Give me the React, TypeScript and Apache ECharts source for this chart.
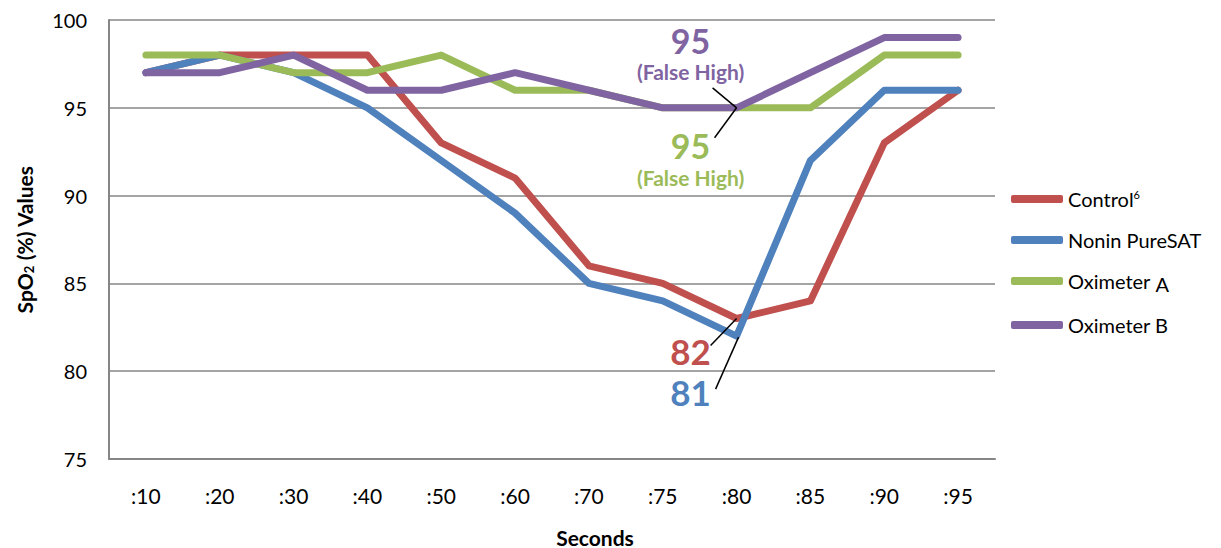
import React, { useEffect, useRef } from "react";
import * as echarts from "echarts";

const categories = [":10", ":20", ":30", ":40", ":50", ":60", ":70", ":75", ":80", ":85", ":90", ":95"];
const controlValues = [97, 98, 98, 98, 93, 91, 86, 85, 83, 84, 93, 96];
const noninValues = [97, 98, 97, 95, 92, 89, 85, 84, 82, 92, 96, 96];
const oximeterAValues = [98, 98, 97, 97, 98, 96, 96, 95, 95, 95, 98, 98];
const oximeterBValues = [97, 97, 98, 96, 96, 97, 96, 95, 95, 97, 99, 99];
const seriesNames = ["Control", "Nonin PureSAT", "Oximeter A", "Oximeter B"];
const colors = ["#C0504D", "#4F81BD", "#9BBB59", "#8064A2"];

const FONT = "Lato, 'Noto Sans', sans-serif";

export default function App() {
  const ref = useRef<HTMLDivElement>(null);
  useEffect(() => {
    if (!ref.current) return;
    document.body.style.margin = "0";
    const chart = echarts.init(ref.current, null, { renderer: "svg" });
    const mk = (i: number, data: number[]) => ({
      name: seriesNames[i],
      type: "line",
      data,
      symbol: "none",
      lineStyle: { width: 7, color: colors[i], cap: "round", join: "round" },
      itemStyle: { color: colors[i] },
    });
    chart.setOption({
      animation: false,
      textStyle: { fontFamily: FONT },
      grid: { left: 109, right: 226, top: 20, bottom: 89 },
      legend: {
        orient: "vertical",
        left: 1006,
        top: 184,
        itemGap: 21,
        itemWidth: 52,
        itemHeight: 8,
        icon: "roundRect",
        data: seriesNames,
        textStyle: {
          fontSize: 20,
          color: "#000",
          fontFamily: FONT,
          rich: {
            sup: { fontSize: 11, verticalAlign: "top", padding: [0, 0, 9, 0], color: "#000", fontFamily: FONT },
            low: { fontSize: 20, padding: [6, 0, 0, 0], color: "#000", fontFamily: FONT },
          },
        },
        formatter: (name: string) => {
          if (name === "Control") return "Control{sup|6}";
          if (name === "Oximeter A") return "Oximeter {low|A}";
          return name;
        },
      },
      xAxis: {
        type: "category",
        data: categories,
        boundaryGap: true,
        axisLine: { lineStyle: { color: "#868686", width: 2 } },
        axisTick: { show: false },
        axisLabel: { color: "#000", fontSize: 21, margin: 26, fontFamily: FONT },
      },
      yAxis: {
        type: "value",
        min: 75,
        max: 100,
        interval: 5,
        axisLine: { show: true, lineStyle: { color: "#868686", width: 2 } },
        axisTick: { show: false },
        splitLine: { lineStyle: { color: "#868686", width: 1.5 } },
        axisLabel: { color: "#000", fontSize: 20, margin: 22, fontFamily: FONT },
        name: "SpO{sub|2} (%) Values",
        nameLocation: "middle",
        nameGap: 74,
        nameRotate: 90,
        nameTextStyle: {
          fontSize: 21,
          fontWeight: "bold",
          color: "#000",
          fontFamily: FONT,
          rich: {
            sub: { fontSize: 13, fontWeight: "bold", padding: [9, 0, 0, 0], color: "#000", fontFamily: FONT },
          },
        },
      },
      series: [
        mk(0, controlValues),
        mk(1, noninValues),
        mk(2, oximeterAValues),
        mk(3, oximeterBValues),
      ],
    });

    const idx = 8;
    const pB = chart.convertToPixel({ gridIndex: 0 }, [idx, oximeterBValues[idx]]) as number[];
    const pC = chart.convertToPixel({ gridIndex: 0 }, [idx, controlValues[idx]]) as number[];
    const pN = chart.convertToPixel({ gridIndex: 0 }, [idx, noninValues[idx]]) as number[];

    const txt = (x: number, y: number, text: string, color: string, size: number) => ({
      type: "text",
      x,
      y,
      z: 100,
      style: {
        text,
        fill: color,
        font: `bold ${size}px ${FONT}`,
        lineHeight: size,
        align: "center",
        verticalAlign: "middle",
      },
    });
    const ln = (x1: number, y1: number, x2: number, y2: number) => ({
      type: "line",
      z: 100,
      shape: { x1, y1, x2, y2 },
      style: { stroke: "#000", lineWidth: 1.5 },
    });

    chart.setOption({
      graphic: [
        txt(pB[0] - 46, pB[1] - 67, "95", colors[3], 34),
        txt(pB[0] - 46, pB[1] - 36, "(False High)", colors[3], 21),
        ln(pB[0] - 24, pB[1] - 20, pB[0], pB[1]),
        txt(pB[0] - 46, pB[1] + 38, "95", colors[2], 34),
        txt(pB[0] - 46, pB[1] + 70, "(False High)", colors[2], 21),
        ln(pB[0], pB[1], pB[0] - 22, pB[1] + 30),
        txt(pC[0] - 46, pC[1] + 32, "82", colors[0], 35),
        ln(pC[0], pC[1], pC[0] - 26, pC[1] + 27),
        txt(pN[0] - 46, pN[1] + 56, "81", colors[1], 35),
        ln(pN[0] + 2, pN[1] + 1, pN[0] - 21, pN[1] + 53),
        txt(595, 537, "Seconds", "#000", 21),
      ],
    });

    return () => chart.dispose();
  }, []);
  return <div ref={ref} style={{ width: 1221, height: 548 }} />;
}
